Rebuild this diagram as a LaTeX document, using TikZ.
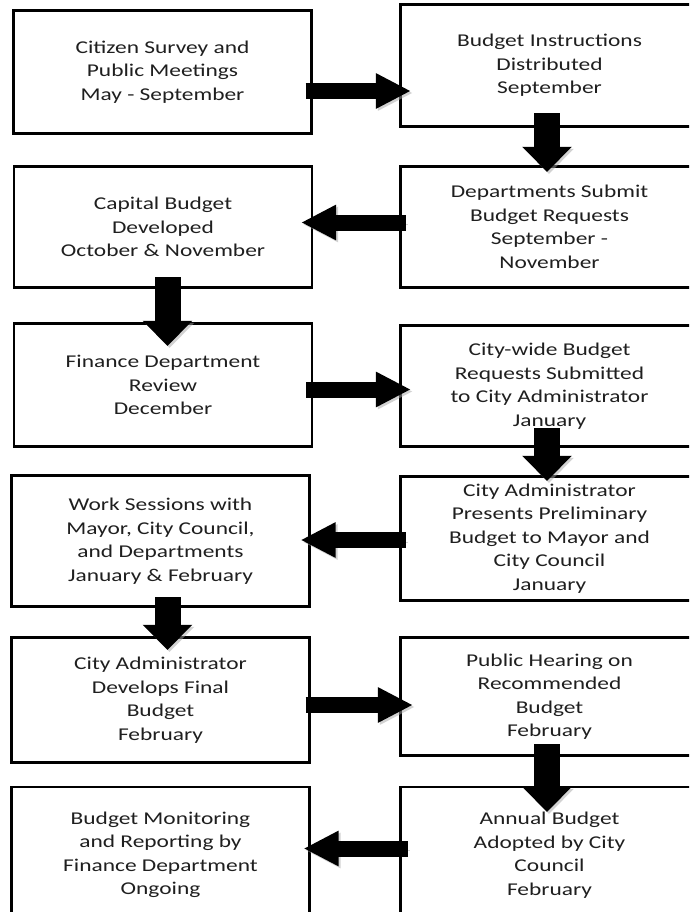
\documentclass[tikz,border=0pt]{standalone}
\usepackage{fontspec}
\setmainfont{Carlito}[FakeStretch=1.3]
\usetikzlibrary{arrows.meta,calc}
\begin{document}
\begin{tikzpicture}[x=1pt,y=-1pt,
  stage/.style={draw,line width=2.2pt,minimum width=298pt,align=center,
    text=black!88,font=\fontsize{18}{23.5}\selectfont},
  hblock/.style={line width=16pt,-{Triangle[length=35pt,width=33pt]},
    preaction={draw=black!35,opacity=.5,transform canvas={shift={(2pt,-2pt)}}}},
  vblock/.style={line width=26pt,-{Triangle[length=25pt,width=48pt]},
    preaction={draw=black!35,opacity=.5,transform canvas={shift={(2pt,-2pt)}}}}]
  \useasboundingbox (0,0) rectangle (689,912);
  \fill[white] (0,0) rectangle (689,912);
  \clip (0,0) rectangle (689,912);
  \node[stage,minimum height=123pt] (cs) at (162.5,72) {Citizen Survey and\\Public Meetings\\May - September};
  \node[stage,minimum height=122pt] (bi) at (549.5,65.5) {Budget Instructions\\Distributed\\September};
  \node[stage,minimum height=121pt] (ds) at (549.5,227) {Departments Submit\\Budget Requests\\September -\\November};
  \node[stage,minimum height=121pt] (cb) at (163,227) {Capital Budget\\Developed\\October \& November};
  \node[stage,minimum height=123pt] (fd) at (163,385) {Finance Department\\Review\\December};
  \node[stage,minimum height=121pt] (cw) at (549.5,386) {City-wide Budget\\Requests Submitted\\to City Administrator\\January};
  \node[stage,minimum height=124pt] (ca) at (549.5,538.5) {City Administrator\\Presents Preliminary\\Budget to Mayor and\\City Council\\January};
  \node[stage,minimum height=131pt] (ws) at (160.5,541) {Work Sessions with\\Mayor, City Council,\\and Departments\\January \& February};
  \node[stage,minimum height=125pt] (fb) at (160.5,700) {City Administrator\\Develops Final\\Budget\\February};
  \node[stage,minimum height=118pt] (ph) at (549.5,696.5) {Public Hearing on\\Recommended\\Budget\\February};
  \node[stage,minimum height=136pt] (ab) at (549.5,855) {Annual Budget\\Adopted by City\\Council\\February};
  \node[stage,minimum height=136pt] (bm) at (160.5,855) {Budget Monitoring\\and Reporting by\\Finance Department\\Ongoing};
  \draw[hblock] ($(cs.east)+(-7,19)$) -- ($(bi.west)+(11.5,25.5)$);
  \draw[vblock] ($(bi.south)+(-2.5,-14.5)$) -- ($(ds.north)+(-2.5,6.5)$);
  \draw[hblock] ($(ds.west)+(6.5,-4.5)$) -- ($(cb.east)+(-12,-4.5)$);
  \draw[vblock] ($(cb.south)+(4.5,-11.5)$) -- ($(fd.north)+(4.5,23.5)$);
  \draw[hblock] ($(fd.east)+(-7,4.5)$) -- ($(cw.west)+(11.5,3.5)$);
  \draw[vblock] ($(cw.south)+(-2.5,-19.5)$) -- ($(ca.north)+(-2.5,5.5)$);
  \draw[hblock] ($(ca.west)+(6.5,1.5)$) -- ($(ws.east)+(-10,-1)$);
  \draw[vblock] ($(ws.south)+(7,-10.5)$) -- ($(fb.north)+(7,13.5)$);
  \draw[hblock] ($(fb.east)+(-5,5)$) -- ($(ph.west)+(13.5,8.5)$);
  \draw[vblock] ($(ph.south)+(-2.5,-12.5)$) -- ($(ab.north)+(-2.5,26)$);
  \draw[hblock] ($(ab.west)+(8.5,-6.5)$) -- ($(bm.east)+(-7,-6.5)$);
\end{tikzpicture}
\end{document}
